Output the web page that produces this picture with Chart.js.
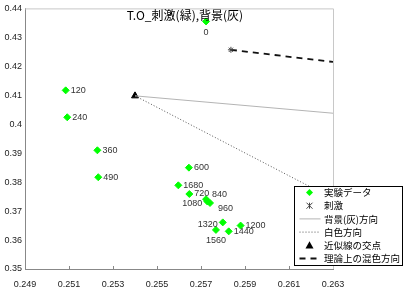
<!DOCTYPE html>
<html>
<head>
<meta charset="utf-8">
<script src="https://cdn.jsdelivr.net/npm/chart.js@4/dist/chart.umd.min.js"></script>
<style>
  html, body { margin: 0; padding: 0; background: #fff; }
  #wrap { width: 408px; height: 295px; }
</style>
</head>
<body>
<div id="wrap"><canvas id="c" width="408" height="295"></canvas></div>
<script>
// measured chromaticity (x, y), one point per elapsed time
const timeLabels = ["0", "120", "240", "360", "490", "600", "720", "840", "960", "1080", "1200", "1320", "1440", "1560", "1680"];
const expX = [0.25723, 0.25085, 0.25092, 0.25229, 0.25233, 0.25645, 0.25647, 0.25723, 0.25741, 0.25729, 0.25880, 0.25799, 0.25826, 0.25768, 0.25597];
const expY = [0.4355, 0.4117, 0.4024, 0.3910, 0.3817, 0.3850, 0.3759, 0.3741, 0.3728, 0.3733, 0.3650, 0.3661, 0.3630, 0.3635, 0.3789];

// stimulus and theoretical mixing direction
const stimX = [0.25836];
const stimY = [0.4257];
const mixX = [0.25836, 0.263];
const mixY = [0.4257, 0.4215];

// intersection of fitted lines, background and white directions
const crossX = [0.2540];
const crossY = [0.4098];
const bgX = [0.2540, 0.263];
const bgY = [0.4098, 0.4038];
const whiteX = [0.2540, 0.263];
const whiteY = [0.4098, 0.3743];

const xTicks = [0.249, 0.251, 0.253, 0.255, 0.257, 0.259, 0.261, 0.263];

const pts = (xs, ys) => xs.map((x, i) => ({ x: x, y: ys[i] }));

// where each time label sits relative to its point
const labelPlace = { "0": "below", "840": "aboveRight", "960": "belowRight", "1080": "left", "1320": "left", "1560": "below" };

const frame = {
  id: 'frame',
  beforeDatasetsDraw(chart) {
    const a = chart.chartArea, ctx = chart.ctx;
    ctx.save();
    ctx.strokeStyle = '#c8c8c8';
    ctx.lineWidth = 1;
    ctx.beginPath();
    ctx.moveTo(a.left, a.top + 0.5);
    ctx.lineTo(a.right + 0.5, a.top + 0.5);
    ctx.lineTo(a.right + 0.5, a.bottom);
    ctx.stroke();
    ctx.restore();
  }
};

const pointLabels = {
  id: 'pointLabels',
  afterDatasetsDraw(chart) {
    const ctx = chart.ctx;
    const meta = chart.getDatasetMeta(0);
    ctx.save();
    ctx.font = '9px "Liberation Sans", Arial, sans-serif';
    ctx.fillStyle = '#333';
    meta.data.forEach((el, i) => {
      const t = timeLabels[i];
      const p = labelPlace[t] || 'right';
      let x = el.x, y = el.y;
      ctx.textBaseline = 'middle';
      if (p === 'right') { ctx.textAlign = 'left'; x += 5; }
      else if (p === 'left') { ctx.textAlign = 'right'; x -= 5; y += 2; }
      else if (p === 'below') { ctx.textAlign = 'center'; y += 11; }
      else if (p === 'aboveRight') { ctx.textAlign = 'left'; x += 6; y -= 5; }
      else if (p === 'belowRight') { ctx.textAlign = 'left'; x += 8; y += 6; }
      ctx.fillText(t, x, y);
    });
    ctx.restore();
  }
};

const titlePlugin = {
  id: 'innerTitle',
  afterDraw(chart) {
    const ctx = chart.ctx;
    ctx.save();
    ctx.font = '12px "Noto Sans CJK JP", sans-serif';
    ctx.fillStyle = '#000';
    ctx.textAlign = 'center';
    ctx.textBaseline = 'middle';
    ctx.fillText('T.O_刺激(緑),背景(灰)', 185, 15);
    ctx.restore();
  }
};

function drawSymbol(ctx, ds, cx, cy) {
  ctx.save();
  if (ds.showLine) {
    ctx.strokeStyle = ds.borderColor;
    ctx.lineWidth = ds.borderWidth;
    ctx.setLineDash(ds.borderDash || []);
    ctx.beginPath();
    ctx.moveTo(cx - 10, cy);
    ctx.lineTo(cx + 11, cy);
    ctx.stroke();
  } else if (ds.pointStyle === 'rectRot') {
    const r = ds.pointRadius;
    ctx.fillStyle = ds.backgroundColor;
    ctx.beginPath();
    ctx.moveTo(cx, cy - r); ctx.lineTo(cx + r, cy); ctx.lineTo(cx, cy + r); ctx.lineTo(cx - r, cy);
    ctx.closePath(); ctx.fill();
  } else if (ds.pointStyle === 'triangle') {
    const r = ds.pointRadius;
    ctx.fillStyle = ds.backgroundColor;
    ctx.beginPath();
    ctx.moveTo(cx, cy - r); ctx.lineTo(cx + r, cy + r * 0.8); ctx.lineTo(cx - r, cy + r * 0.8);
    ctx.closePath(); ctx.fill();
  } else if (ds.pointStyle === 'star') {
    const r = ds.pointRadius;
    ctx.strokeStyle = ds.borderColor;
    ctx.lineWidth = 1;
    ctx.beginPath();
    ctx.moveTo(cx - r, cy - r); ctx.lineTo(cx + r, cy + r);
    ctx.moveTo(cx + r, cy - r); ctx.lineTo(cx - r, cy + r);
    ctx.moveTo(cx, cy - r); ctx.lineTo(cx, cy + r);
    ctx.stroke();
  }
  ctx.restore();
}

const boxLegend = {
  id: 'boxLegend',
  afterDraw(chart) {
    const ctx = chart.ctx;
    const x0 = 294.5, y0 = 186.5, w = 108, h = 79;
    ctx.save();
    ctx.fillStyle = '#fff';
    ctx.fillRect(x0, y0, w, h);
    ctx.strokeStyle = '#000';
    ctx.lineWidth = 1;
    ctx.strokeRect(x0, y0, w, h);
    ctx.font = '9.5px "Noto Sans CJK JP", sans-serif';
    ctx.textBaseline = 'middle';
    ctx.textAlign = 'left';
    chart.data.datasets.forEach((ds, i) => {
      const cy = y0 + 6 + i * 13.2;
      drawSymbol(ctx, ds, 309.5, cy);
      ctx.fillStyle = '#000';
      ctx.fillText(ds.label, 324, cy);
    });
    ctx.restore();
  }
};

new Chart(document.getElementById('c'), {
  type: 'scatter',
  data: {
    datasets: [
      {
        label: '実験データ',
        data: pts(expX, expY),
        pointStyle: 'rectRot',
        pointRadius: 3.5,
        backgroundColor: '#00ff00',
        borderColor: '#00ff00',
        borderWidth: 1
      },
      {
        label: '刺激',
        data: pts(stimX, stimY),
        pointStyle: 'star',
        pointRadius: 3,
        backgroundColor: '#444',
        borderColor: '#444',
        borderWidth: 1
      },
      {
        label: '背景(灰)方向',
        data: pts(bgX, bgY),
        showLine: true,
        pointRadius: 0,
        borderColor: '#b4b4b4',
        borderWidth: 1
      },
      {
        label: '白色方向',
        data: pts(whiteX, whiteY),
        showLine: true,
        pointRadius: 0,
        borderColor: '#555',
        borderWidth: 1,
        borderDash: [1, 2]
      },
      {
        label: '近似線の交点',
        data: pts(crossX, crossY),
        pointStyle: 'triangle',
        pointRadius: 4,
        backgroundColor: '#000',
        borderColor: '#000',
        borderWidth: 1
      },
      {
        label: '理論上の混色方向',
        data: pts(mixX, mixY),
        showLine: true,
        pointRadius: 0,
        borderColor: '#111',
        borderWidth: 1.8,
        borderDash: [6, 5]
      }
    ]
  },
  options: {
    responsive: false,
    animation: false,
    devicePixelRatio: 1,
    layout: { padding: { top: 6, right: 75, left: 0, bottom: 0 } },
    plugins: {
      legend: { display: false },
      tooltip: { enabled: false },
      title: { display: false }
    },
    scales: {
      x: {
        type: 'linear',
        min: 0.249,
        max: 0.263,
        afterFit(s) { s.height = 26; },
        afterBuildTicks(s) { s.ticks = xTicks.map(v => ({ value: v })); },
        grid: { drawOnChartArea: false, drawTicks: true, tickLength: -3, tickColor: '#888' },
        border: { color: '#888', width: 1 },
        ticks: {
          padding: 13,
          maxRotation: 0,
          autoSkip: false,
          color: '#222',
          font: { family: '"Liberation Sans", Arial, sans-serif', size: 9 },
          callback: v => v.toFixed(3)
        }
      },
      y: {
        type: 'linear',
        min: 0.35,
        max: 0.44,
        afterFit(s) { s.width = 25; },
        grid: { drawOnChartArea: false, drawTicks: false },
        border: { color: '#888', width: 1 },
        ticks: {
          stepSize: 0.01,
          padding: 3,
          color: '#222',
          font: { family: '"Liberation Sans", Arial, sans-serif', size: 9 },
          callback: v => String(+v.toFixed(2))
        }
      }
    }
  },
  plugins: [frame, pointLabels, titlePlugin, boxLegend]
});
</script>
</body>
</html>
